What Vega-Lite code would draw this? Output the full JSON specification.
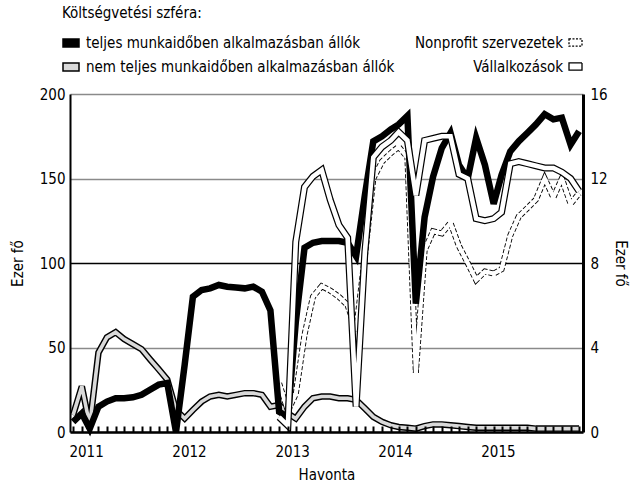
{
  "$schema": "https://vega.github.io/schema/vega-lite/v6.json",
  "width": 513,
  "height": 338,
  "autosize": "none",
  "padding": {"left": 70, "top": 94, "right": 47, "bottom": 51},
  "background": "white",
  "config": {
    "font": "DejaVu Sans Condensed, Roboto, sans-serif",
    "view": {"stroke": null},
    "axis": {"labelColor": "black", "titleColor": "black", "labelFontSize": 15, "titleFontSize": 15, "titleFontWeight": "normal"},
    "legend": {"labelColor": "black", "titleColor": "black", "labelLimit": 0}
  },
  "data": {"values": [
    {"d": "2011-01-01", "full": 6, "part": 10, "np": null, "va": null},
    {"d": "2011-02-01", "full": 11, "part": 27, "np": null, "va": null},
    {"d": "2011-03-01", "full": 2, "part": 4, "np": null, "va": null},
    {"d": "2011-04-01", "full": 15, "part": 47, "np": null, "va": null},
    {"d": "2011-05-01", "full": 18, "part": 56, "np": null, "va": null},
    {"d": "2011-06-01", "full": 20, "part": 59, "np": null, "va": null},
    {"d": "2011-07-01", "full": 20, "part": 55, "np": null, "va": null},
    {"d": "2011-08-01", "full": 20.5, "part": 52, "np": null, "va": null},
    {"d": "2011-09-01", "full": 22, "part": 49, "np": null, "va": null},
    {"d": "2011-10-01", "full": 25, "part": 43, "np": null, "va": null},
    {"d": "2011-11-01", "full": 28, "part": 37, "np": null, "va": null},
    {"d": "2011-12-01", "full": 29, "part": 31, "np": null, "va": null},
    {"d": "2012-01-01", "full": 0, "part": 13, "np": null, "va": null},
    {"d": "2012-02-01", "full": 40, "part": 8, "np": null, "va": null},
    {"d": "2012-03-01", "full": 80, "part": 13, "np": null, "va": null},
    {"d": "2012-04-01", "full": 84, "part": 18, "np": null, "va": null},
    {"d": "2012-05-01", "full": 85, "part": 21, "np": null, "va": null},
    {"d": "2012-06-01", "full": 87, "part": 22, "np": null, "va": null},
    {"d": "2012-07-01", "full": 86, "part": 21, "np": null, "va": null},
    {"d": "2012-08-01", "full": 85.5, "part": 22, "np": null, "va": null},
    {"d": "2012-09-01", "full": 85, "part": 23, "np": null, "va": null},
    {"d": "2012-10-01", "full": 86, "part": 23, "np": null, "va": null},
    {"d": "2012-11-01", "full": 83, "part": 22, "np": null, "va": null},
    {"d": "2012-12-01", "full": 72, "part": 15, "np": null, "va": null},
    {"d": "2013-01-01", "full": 12, "part": 16, "np": 2.3, "va": 0.7},
    {"d": "2013-02-01", "full": 9, "part": 11, "np": 1.0, "va": 0.3},
    {"d": "2013-03-01", "full": 65, "part": 8, "np": 1.8, "va": 9.0},
    {"d": "2013-04-01", "full": 109, "part": 15, "np": 4.6, "va": 11.6},
    {"d": "2013-05-01", "full": 112, "part": 20, "np": 6.4, "va": 12.1},
    {"d": "2013-06-01", "full": 113, "part": 21, "np": 6.9, "va": 12.4},
    {"d": "2013-07-01", "full": 113, "part": 21, "np": 6.7, "va": 11.0},
    {"d": "2013-08-01", "full": 113, "part": 20, "np": 6.4, "va": 9.8},
    {"d": "2013-09-01", "full": 112, "part": 20, "np": 6.0, "va": 9.2},
    {"d": "2013-10-01", "full": 104, "part": 19, "np": 4.8, "va": 1.2},
    {"d": "2013-11-01", "full": 140, "part": 14, "np": 8.3, "va": 8.5},
    {"d": "2013-12-01", "full": 172, "part": 9, "np": 12.0, "va": 13.0},
    {"d": "2014-01-01", "full": 175, "part": 6, "np": 12.8, "va": 13.5},
    {"d": "2014-02-01", "full": 179, "part": 4, "np": 13.2, "va": 13.8},
    {"d": "2014-03-01", "full": 182, "part": 3, "np": 13.5, "va": 14.2},
    {"d": "2014-04-01", "full": 187, "part": 2.5, "np": 13.0, "va": 13.8},
    {"d": "2014-05-01", "full": 76, "part": 2, "np": 2.8, "va": 11.2},
    {"d": "2014-06-01", "full": 127, "part": 3.5, "np": 8.6, "va": 13.8},
    {"d": "2014-07-01", "full": 151, "part": 4.5, "np": 9.5, "va": 13.9},
    {"d": "2014-08-01", "full": 168, "part": 4.5, "np": 9.4, "va": 14.0},
    {"d": "2014-09-01", "full": 177, "part": 4, "np": 9.9, "va": 14.0},
    {"d": "2014-10-01", "full": 158, "part": 3.5, "np": 8.8, "va": 12.2},
    {"d": "2014-11-01", "full": 150, "part": 3, "np": 8.0, "va": 12.0},
    {"d": "2014-12-01", "full": 174, "part": 2.5, "np": 7.2, "va": 10.1},
    {"d": "2015-01-01", "full": 158, "part": 2.5, "np": 7.6, "va": 10.0},
    {"d": "2015-02-01", "full": 135, "part": 2.5, "np": 7.5, "va": 10.1},
    {"d": "2015-03-01", "full": 152, "part": 2.5, "np": 7.7, "va": 10.4},
    {"d": "2015-04-01", "full": 166, "part": 2.5, "np": 9.3, "va": 12.7},
    {"d": "2015-05-01", "full": 172, "part": 2.5, "np": 10.2, "va": 12.8},
    {"d": "2015-06-01", "full": 177, "part": 2.5, "np": 10.6, "va": 12.7},
    {"d": "2015-07-01", "full": 182, "part": 2, "np": 11.0, "va": 12.6},
    {"d": "2015-08-01", "full": 188, "part": 2, "np": 12.0, "va": 12.5},
    {"d": "2015-09-01", "full": 185, "part": 2, "np": 11.1, "va": 12.5},
    {"d": "2015-10-01", "full": 186, "part": 2, "np": 12.0, "va": 12.3},
    {"d": "2015-11-01", "full": 170, "part": 2, "np": 10.8, "va": 12.0},
    {"d": "2015-12-01", "full": 178, "part": 2, "np": 11.3, "va": 11.4}
  ]},
  "encoding": {
    "x": {
      "field": "d", "type": "temporal",
      "scale": {"type": "utc", "domain": [{"year": 2010, "month": 12, "date": 21, "utc": true}, {"year": 2015, "month": 12, "date": 15, "utc": true}]},
      "axis": {
        "title": "Havonta", "titlePadding": 8,
        "tickCount": {"interval": "month", "step": 1},
        "tickSize": -6, "tickWidth": 2, "tickColor": "black",
        "domainColor": "black", "domainWidth": 2.5,
        "labelExpr": "utcmonth(datum.value) == 0 ? utcFormat(datum.value, '%Y') : ''",
        "labelOffset": 13, "labelFlush": false, "labelOverlap": false, "labelPadding": 18,
        "grid": false, "zindex": 1
      }
    }
  },
  "layer": [
    {
      "mark": {"type": "line", "color": "black", "strokeWidth": 6.5, "strokeJoin": "miter"},
      "encoding": {"y": {"field": "part", "type": "quantitative", "scale": {"domain": [0, 200]},
        "axis": {"title": "Ezer fő", "orient": "left", "values": [0, 50, 100, 150, 200], "ticks": false, "labelPadding": 5, "titlePadding": 14,
          "domainColor": "black", "domainWidth": 2, "grid": true, "gridWidth": 1.3,
          "gridColor": {"condition": {"test": "datum.value == 100", "value": "black"}, "value": "#8a8a8a"}, "zindex": 0}}}
    },
    {
      "mark": {"type": "line", "color": "#d9d9d9", "strokeWidth": 3.6, "strokeJoin": "miter"},
      "encoding": {"y": {"field": "part", "type": "quantitative", "scale": {"domain": [0, 200]}, "axis": null}}
    },
    {
      "mark": {"type": "line", "color": "black", "strokeWidth": 6, "strokeDash": [4, 2], "strokeJoin": "miter"},
      "encoding": {"y": {"field": "np", "type": "quantitative", "scale": {"domain": [0, 16]}, "axis": null}}
    },
    {
      "mark": {"type": "line", "color": "white", "strokeWidth": 4.2, "strokeJoin": "miter"},
      "encoding": {"y": {"field": "np", "type": "quantitative", "scale": {"domain": [0, 16]}, "axis": null}}
    },
    {
      "mark": {"type": "line", "color": "black", "strokeWidth": 6.5, "strokeJoin": "miter"},
      "encoding": {"y": {"field": "full", "type": "quantitative", "scale": {"domain": [0, 200]}, "axis": null}}
    },
    {
      "mark": {"type": "line", "color": "black", "strokeWidth": 7, "strokeJoin": "miter"},
      "encoding": {"y": {"field": "va", "type": "quantitative", "scale": {"domain": [0, 16]},
        "axis": {"title": "Ezer fő", "orient": "right", "values": [0, 4, 8, 12, 16], "ticks": false, "labelPadding": 7, "titleAngle": 90, "titlePadding": 5,
          "domainColor": "black", "domainWidth": 3, "grid": false, "zindex": 0}}}
    },
    {
      "mark": {"type": "line", "color": "white", "strokeWidth": 4.6, "strokeJoin": "miter"},
      "encoding": {"y": {"field": "va", "type": "quantitative", "scale": {"domain": [0, 16]}, "axis": null}}
    },
    {
      "transform": [{"filter": "false"}],
      "mark": {"type": "point", "filled": true, "stroke": "black", "strokeWidth": 1.5},
      "encoding": {"fill": {"datum": "teljes munkaidőben alkalmazásban állók", "type": "nominal",
        "scale": {"domain": ["teljes munkaidőben alkalmazásban állók", "nem teljes munkaidőben alkalmazásban állók"], "range": ["black", "#d9d9d9"]},
        "legend": {"orient": "none", "legendX": -8, "legendY": -88, "padding": 0, "title": "Költségvetési szféra:", "titleFontSize": 15, "titleFontWeight": "normal", "titlePadding": 13,
          "labelFontSize": 15, "labelOffset": 6, "rowPadding": 7, "symbolType": "M-1,-0.5H1V0.5H-1Z", "symbolSize": 256, "symbolStrokeColor": "black", "symbolStrokeWidth": 1.5, "symbolOpacity": 1}}}
    },
    {
      "transform": [{"filter": "false"}],
      "mark": {"type": "point", "filled": true, "stroke": "black", "strokeWidth": 1.3},
      "encoding": {"fill": {"datum": "Nonprofit szervezetek", "type": "nominal",
        "scale": {"domain": ["Nonprofit szervezetek", "Vállalkozások"], "range": ["white", "white"]},
        "legend": {"orient": "none", "legendX": 498, "legendY": -59, "padding": 0, "title": null,
          "labelFontSize": 15, "labelAlign": "right", "labelOffset": -20, "rowPadding": 8,
          "symbolType": "M-1,-0.55H1V0.55H-1Z", "symbolSize": 169,
          "symbolStrokeColor": "black", "symbolStrokeWidth": 1.3, "symbolOpacity": 1,
          "encode": {"symbols": {"update": {"stroke": {"value": "black"}, "strokeWidth": {"value": 1.3},
            "strokeDash": {"signal": "datum.value === 'Nonprofit szervezetek' ? [2, 1.5] : [1, 0]"}}}}}}}
    }
  ],
  "resolve": {"scale": {"y": "independent", "fill": "independent"}}
}
